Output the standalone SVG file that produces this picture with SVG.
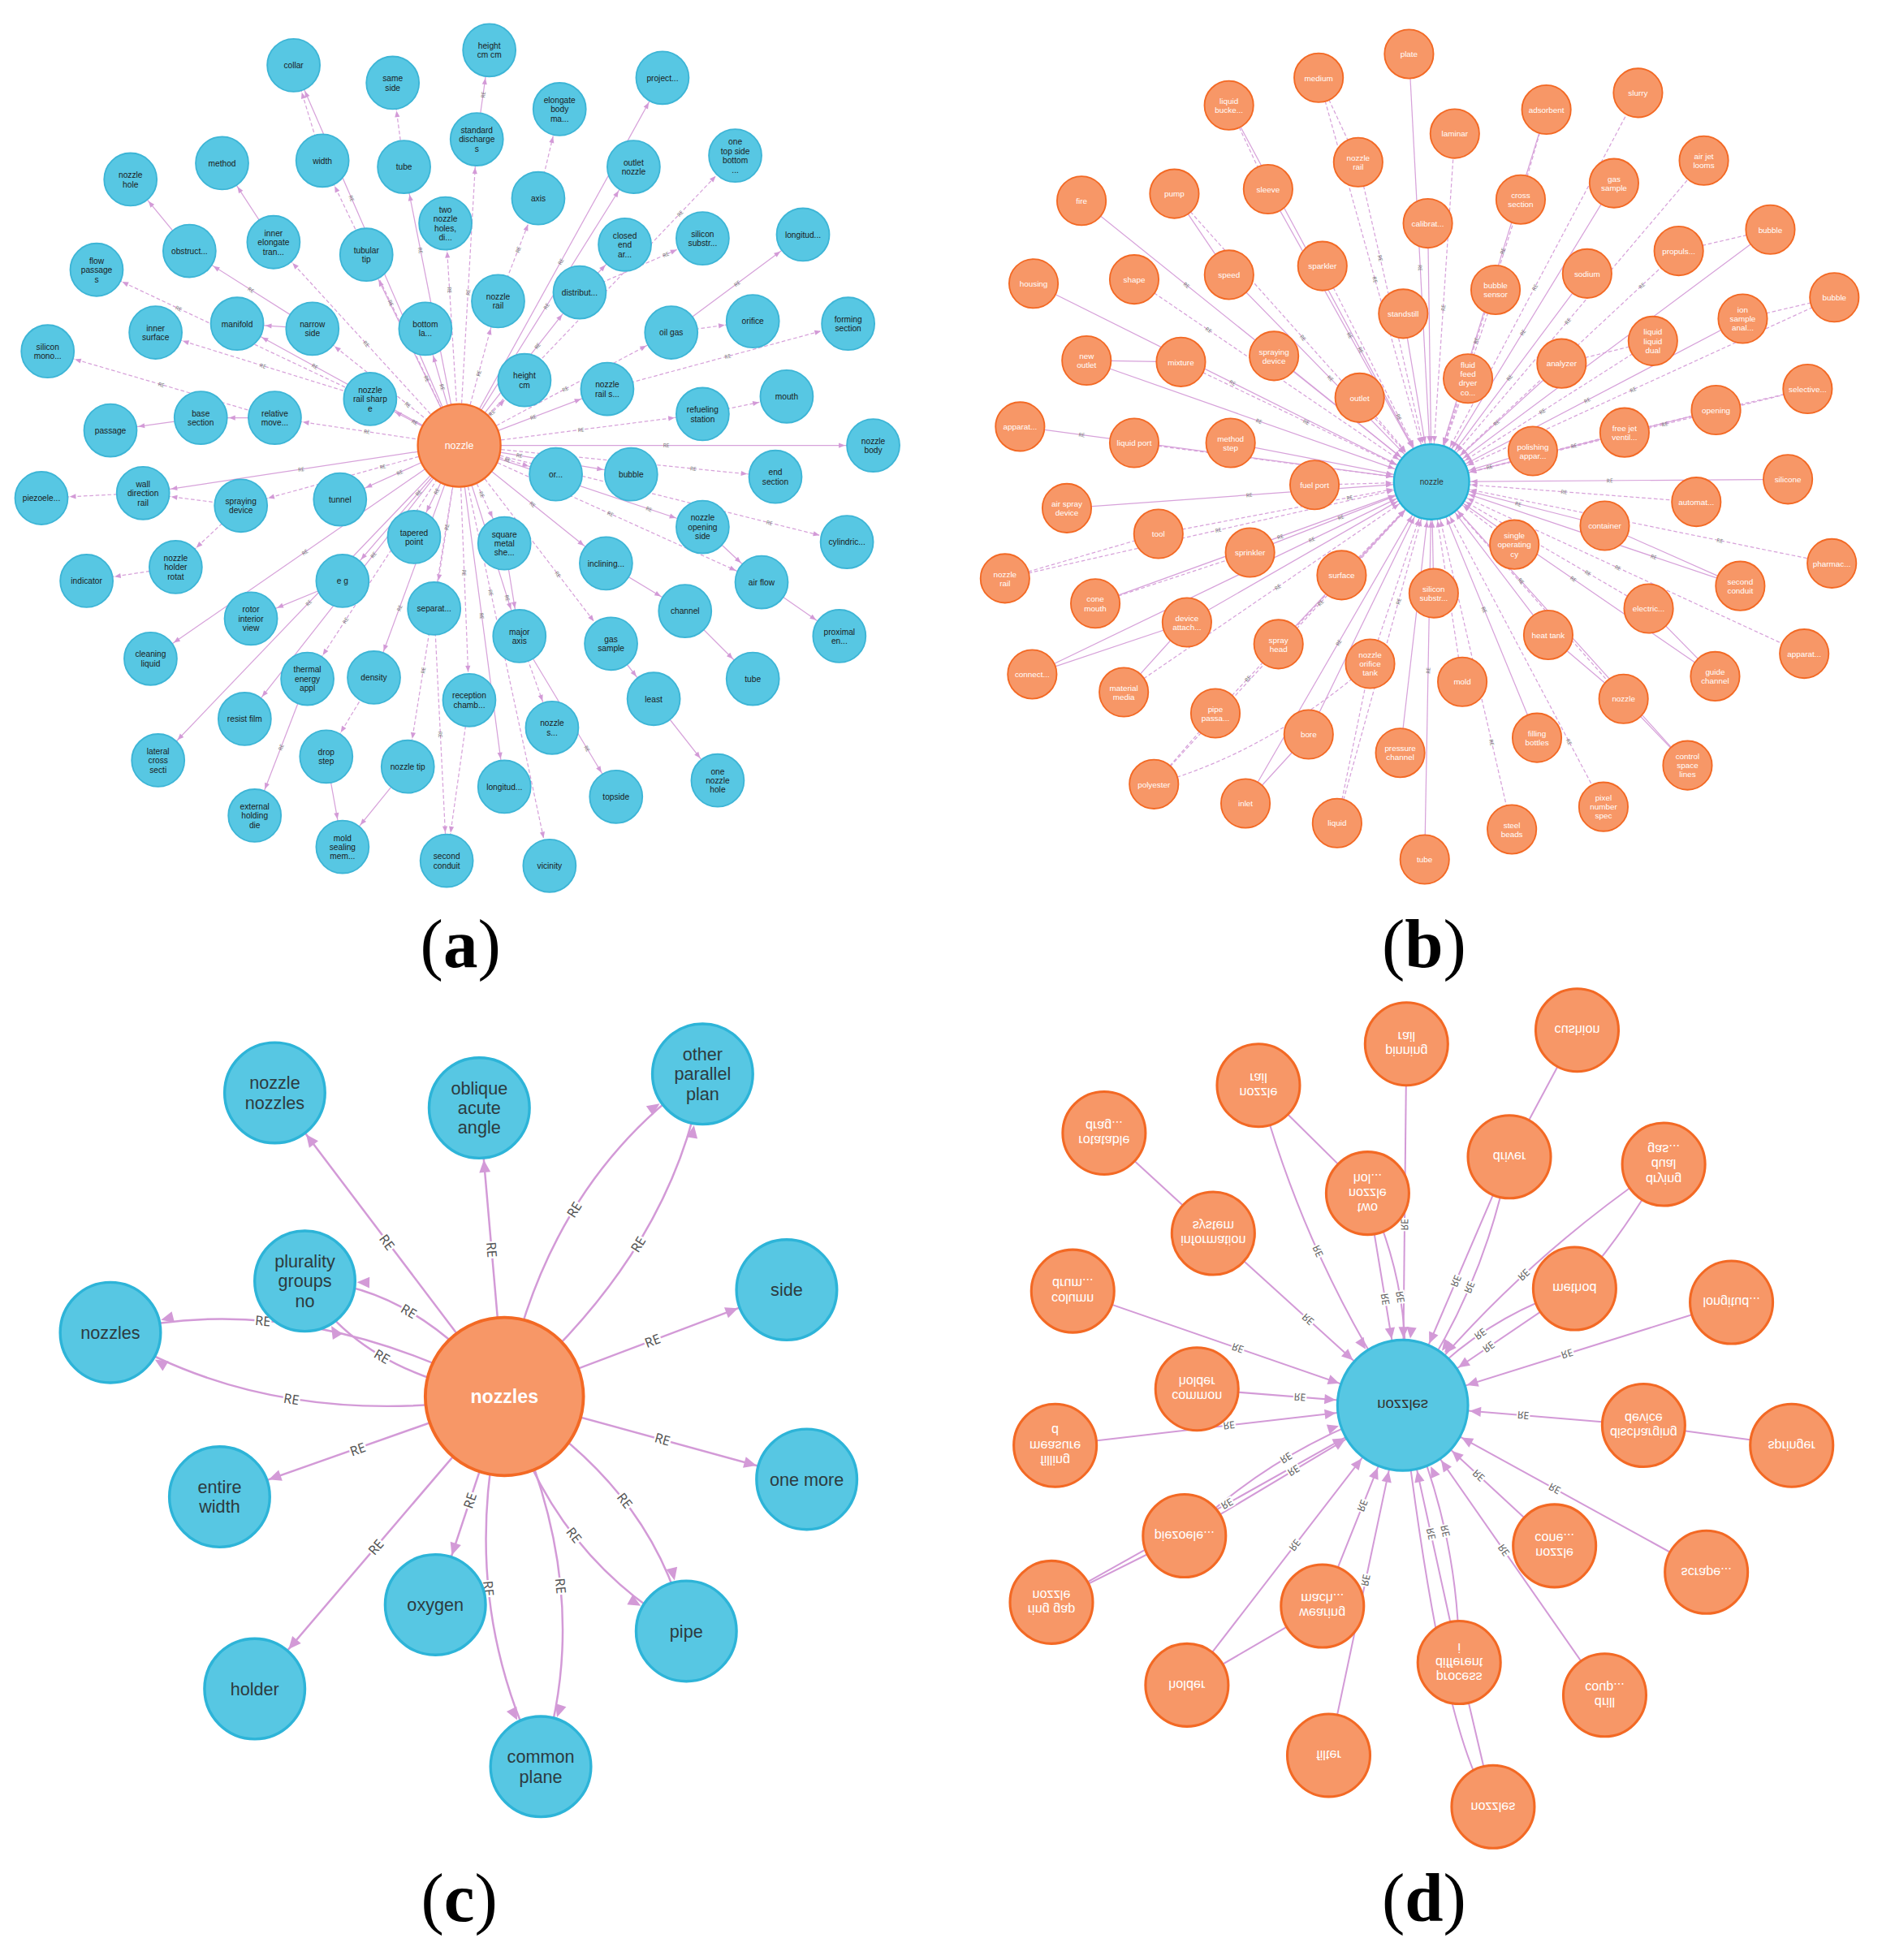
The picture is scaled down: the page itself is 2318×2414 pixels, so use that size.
<svg xmlns="http://www.w3.org/2000/svg" width="2318" height="2414" viewBox="0 0 2318 2414">
<style>
.e{fill:none;stroke:#D7A2DA;stroke-width:.8}
.ec{fill:none;stroke:#D39AD7;stroke-width:1.6}
.ed{fill:none;stroke:#D39AD7;stroke-width:1.3}
.d{stroke-dasharray:3 1.8}
.lab{font-family:"Noto Sans",sans-serif;font-size:4.2px;fill:#777;text-anchor:middle;dominant-baseline:central}
.labc{font-family:"Noto Sans",sans-serif;font-size:10.5px;fill:#555;text-anchor:middle;dominant-baseline:central;stroke:#fff;stroke-width:3;paint-order:stroke}
.labd{font-family:"Noto Sans",sans-serif;font-size:8px;fill:#666;text-anchor:middle;dominant-baseline:central;stroke:#fff;stroke-width:2.5;paint-order:stroke}
.na circle{fill:#57C7E3;stroke:#3DB5D6;stroke-width:1.2}
.na text{font-family:"Liberation Sans",Arial,sans-serif;font-size:6.6px;fill:#1b1b1b;text-anchor:middle}
.ca circle{fill:#F79767;stroke:#F36924;stroke-width:1.5}
.ca text{font-family:"Liberation Sans",Arial,sans-serif;font-size:8px;fill:#fff;text-anchor:middle}
.nb circle{fill:#F79767;stroke:#F36924;stroke-width:1.2}
.nb text{font-family:"Liberation Sans",Arial,sans-serif;font-size:6.4px;fill:#fff;text-anchor:middle}
.cb circle{fill:#57C7E3;stroke:#23B3D7;stroke-width:1.5}
.cb text{font-family:"Liberation Sans",Arial,sans-serif;font-size:6.5px;fill:#333;text-anchor:middle}
.nc circle{fill:#57C7E3;stroke:#2DB4D8;stroke-width:2.2}
.nc text{font-family:"Liberation Sans",Arial,sans-serif;font-size:14px;fill:#2d3b40;text-anchor:middle}
.cc circle{fill:#F79767;stroke:#F36924;stroke-width:2.5}
.cc text{font-family:"Liberation Sans",Arial,sans-serif;font-size:15px;font-weight:bold;fill:#fff;text-anchor:middle}
.nd circle{fill:#F79767;stroke:#F36924;stroke-width:2}
.nd text{font-family:"Liberation Sans",Arial,sans-serif;font-size:10.5px;fill:#fff;text-anchor:middle}
.cd circle{fill:#57C7E3;stroke:#2DB4D8;stroke-width:2}
.cd text{font-family:"Liberation Sans",Arial,sans-serif;font-size:12px;fill:#333;text-anchor:middle}
.pl{font-family:"Liberation Serif","Times New Roman",serif;font-size:55px;fill:#000;text-anchor:middle}
</style>
<defs>
<marker id="mA" markerUnits="userSpaceOnUse" markerWidth="40" markerHeight="6" refX="27.5" refY="2" orient="auto-start-reverse" overflow="visible"><path d="M0,0L5,2L0,4z" fill="#D39AD7"/></marker>
<marker id="mB" markerUnits="userSpaceOnUse" markerWidth="40" markerHeight="6" refX="36.5" refY="2" orient="auto-start-reverse" overflow="visible"><path d="M0,0L5,2L0,4z" fill="#D39AD7"/></marker>
<marker id="mC" markerUnits="userSpaceOnUse" markerWidth="60" markerHeight="10" refX="51.5" refY="4.5" orient="auto-start-reverse" overflow="visible"><path d="M0,0L10,4.5L0,9z" fill="#D39AD7"/></marker>
<marker id="mD" markerUnits="userSpaceOnUse" markerWidth="70" markerHeight="10" refX="62.5" refY="4" orient="auto-start-reverse" overflow="visible"><path d="M0,0L9,4L0,8z" fill="#D39AD7"/></marker>
</defs>
<rect width="2318" height="2414" fill="#fff"/>
<g transform="scale(1.54533)">

<!-- ================= PANEL A ================= -->
<g id="a-edges">
<path class="e" d="M234,52L366,355" marker-start="url(#mA)"/>
<path class="e d" d="M257,128L366,355" marker-start="url(#mA)"/>
<path class="e" d="M322,133L366,355" marker-start="url(#mA)"/>
<path class="e d" d="M366,355L380,111" marker-end="url(#mA)"/>
<path class="e" d="M366,355L528,62" marker-end="url(#mA)"/>
<path class="e d" d="M366,355L586,124" marker-end="url(#mA)"/>
<path class="e" d="M366,355L505,133" marker-end="url(#mA)"/>
<path class="e d" d="M355,178L366,355" marker-start="url(#mA)"/>
<path class="e" d="M292,203L366,355" marker-start="url(#mA)"/>
<path class="e d" d="M218,193L366,355" marker-start="url(#mA)"/>
<path class="e" d="M189,258L366,355" marker-start="url(#mA)"/>
<path class="e d" d="M249,262L366,355" marker-start="url(#mA)"/>
<path class="e" d="M339,262L366,355" marker-start="url(#mA)"/>
<path class="e d" d="M366,355L397,240" marker-end="url(#mA)"/>
<path class="e" d="M366,355L462,233" marker-end="url(#mA)"/>
<path class="e d" d="M366,355L535,265" marker-end="url(#mA)"/>
<path class="e" d="M295,318L366,355" marker-start="url(#mA)"/>
<path class="e d" d="M366,355L418,303" marker-end="url(#mA)"/>
<path class="e" d="M366,355L484,310" marker-end="url(#mA)"/>
<path class="e d" d="M366,355L560,330" marker-end="url(#mA)"/>
<path class="e" d="M366,355L696,355" marker-end="url(#mA)"/>
<path class="e d" d="M219,333L366,355" marker-start="url(#mA)"/>
<path class="e" d="M114,393L366,355" marker-start="url(#mA)"/>
<path class="e d" d="M192,403L366,355" marker-start="url(#mA)"/>
<path class="e" d="M271,398L366,355" marker-start="url(#mA)"/>
<path class="e d" d="M366,355L443,378" marker-end="url(#mA)"/>
<path class="e" d="M366,355L503,378" marker-end="url(#mA)"/>
<path class="e d" d="M366,355L618,380" marker-end="url(#mA)"/>
<path class="e" d="M330,428L366,355" marker-start="url(#mA)"/>
<path class="e d" d="M366,355L402,433" marker-end="url(#mA)"/>
<path class="e" d="M366,355L560,420" marker-end="url(#mA)"/>
<path class="e d" d="M366,355L675,432" marker-end="url(#mA)"/>
<path class="e" d="M273,463L366,355" marker-start="url(#mA)"/>
<path class="e d" d="M346,485L366,355" marker-start="url(#mA)"/>
<path class="e" d="M366,355L483,449" marker-end="url(#mA)"/>
<path class="e d" d="M366,355L607,464" marker-end="url(#mA)"/>
<path class="e" d="M120,525L366,355" marker-start="url(#mA)"/>
<path class="e d" d="M245,541L366,355" marker-start="url(#mA)"/>
<path class="e" d="M298,540L366,355" marker-start="url(#mA)"/>
<path class="e d" d="M366,355L487,513" marker-end="url(#mA)"/>
<path class="e" d="M195,573L366,355" marker-start="url(#mA)"/>
<path class="e d" d="M366,355L374,558" marker-end="url(#mA)"/>
<path class="e" d="M126,606L366,355" marker-start="url(#mA)"/>
<path class="e d" d="M325,611L366,355" marker-start="url(#mA)"/>
<path class="e" d="M366,355L402,627" marker-end="url(#mA)"/>
<path class="e d" d="M366,355L438,690" marker-end="url(#mA)"/>
<path class="e" d="M366,355L414,507" marker-end="url(#mA)"/>
<path class="e d" d="M234,52L257,128" marker-start="url(#mA)"/>
<path class="e d" d="M313,66L322,133" marker-start="url(#mA)"/>
<path class="e" d="M380,111L390,40" marker-end="url(#mA)"/>
<path class="e d" d="M397,240L429,158" marker-end="url(#mA)"/>
<path class="e d" d="M429,158L446,87" marker-end="url(#mA)"/>
<path class="e" d="M462,233L498,195" marker-end="url(#mA)"/>
<path class="e d" d="M462,233L560,190" marker-end="url(#mA)"/>
<path class="e d" d="M535,265L600,256" marker-end="url(#mA)"/>
<path class="e" d="M535,265L640,187" marker-end="url(#mA)"/>
<path class="e d" d="M484,310L676,258" marker-end="url(#mA)"/>
<path class="e d" d="M560,330L627,316" marker-end="url(#mA)"/>
<path class="e" d="M189,258L249,262" marker-start="url(#mA)"/>
<path class="e" d="M151,200L249,262" marker-start="url(#mA)"/>
<path class="e" d="M104,143L151,200" marker-start="url(#mA)"/>
<path class="e" d="M177,130L218,193" marker-start="url(#mA)"/>
<path class="e d" d="M77,215L295,318" marker-start="url(#mA)"/>
<path class="e d" d="M124,265L295,318" marker-start="url(#mA)"/>
<path class="e d" d="M38,280L219,333" marker-start="url(#mA)"/>
<path class="e" d="M160,333L219,333" marker-start="url(#mA)"/>
<path class="e" d="M88,343L160,333" marker-start="url(#mA)"/>
<path class="e d" d="M33,397L114,393" marker-start="url(#mA)"/>
<path class="e d" d="M114,393L192,403" marker-start="url(#mA)"/>
<path class="e d" d="M140,452L192,403" marker-start="url(#mA)"/>
<path class="e d" d="M69,463L140,452" marker-start="url(#mA)"/>
<path class="e" d="M200,493L273,463" marker-start="url(#mA)"/>
<path class="e" d="M203,650L245,541" marker-start="url(#mA)"/>
<path class="e d" d="M260,603L298,540" marker-start="url(#mA)"/>
<path class="e" d="M260,603L273,675" marker-end="url(#mA)"/>
<path class="e" d="M273,675L325,611" marker-start="url(#mA)"/>
<path class="e d" d="M346,485L356,686" marker-end="url(#mA)"/>
<path class="e d" d="M356,686L374,558" marker-start="url(#mA)"/>
<path class="e" d="M402,433L414,507" marker-end="url(#mA)"/>
<path class="e d" d="M414,507L440,580" marker-end="url(#mA)"/>
<path class="e" d="M414,507L491,635" marker-end="url(#mA)"/>
<path class="e" d="M487,513L521,557" marker-end="url(#mA)"/>
<path class="e" d="M521,557L572,622" marker-end="url(#mA)"/>
<path class="e" d="M546,487L600,541" marker-end="url(#mA)"/>
<path class="e" d="M483,449L546,487" marker-end="url(#mA)"/>
<path class="e" d="M607,464L669,507" marker-end="url(#mA)"/>
<path class="e" d="M560,420L607,464" marker-end="url(#mA)"/>
<text class="lab" x="280.2" y="158.1" transform="rotate(66.5 280.2 158.1)">RE</text>
<text class="lab" x="311.5" y="241.5" transform="rotate(64.4 311.5 241.5)">RE</text>
<text class="lab" x="335.2" y="199.6" transform="rotate(78.8 335.2 199.6)">RE</text>
<text class="lab" x="373" y="233" transform="rotate(-86.7 373 233)">RE</text>
<text class="lab" x="447" y="208.5" transform="rotate(-61.1 447 208.5)">RE</text>
<text class="lab" x="542" y="170.2" transform="rotate(-46.4 542 170.2)">RE</text>
<text class="lab" x="435.5" y="244" transform="rotate(-57.9 435.5 244)">RE</text>
<text class="lab" x="358.3" y="231.1" transform="rotate(86.4 358.3 231.1)">RE</text>
<text class="lab" x="340.1" y="301.8" transform="rotate(64 340.1 301.8)">RE</text>
<text class="lab" x="292" y="274" transform="rotate(47.6 292 274)">RE</text>
<text class="lab" x="251" y="292" transform="rotate(28.7 251 292)">RE</text>
<text class="lab" x="325" y="322.5" transform="rotate(38.5 325 322.5)">RE</text>
<text class="lab" x="352.5" y="308.5" transform="rotate(73.8 352.5 308.5)">RE</text>
<text class="lab" x="381.5" y="297.5" transform="rotate(-74.9 381.5 297.5)">RE</text>
<text class="lab" x="428.4" y="275.7" transform="rotate(-51.8 428.4 275.7)">RE</text>
<text class="lab" x="450.5" y="310" transform="rotate(-28 450.5 310)">RE</text>
<text class="lab" x="330.5" y="336.5" transform="rotate(27.5 330.5 336.5)">RE</text>
<text class="lab" x="392" y="329" transform="rotate(-45 392 329)">RE</text>
<text class="lab" x="425" y="332.5" transform="rotate(-20.9 425 332.5)">RE</text>
<text class="lab" x="463" y="342.5" transform="rotate(-7.3 463 342.5)">RE</text>
<text class="lab" x="531" y="355">RE</text>
<text class="lab" x="292.5" y="344" transform="rotate(8.5 292.5 344)">RE</text>
<text class="lab" x="240" y="374" transform="rotate(-8.6 240 374)">RE</text>
<text class="lab" x="305.1" y="371.8" transform="rotate(-15.4 305.1 371.8)">RE</text>
<text class="lab" x="318.5" y="376.5" transform="rotate(-24.4 318.5 376.5)">RE</text>
<text class="lab" x="404.5" y="366.5" transform="rotate(16.6 404.5 366.5)">RE</text>
<text class="lab" x="414" y="363" transform="rotate(9.5 414 363)">RE</text>
<text class="lab" x="552.5" y="373.5" transform="rotate(5.7 552.5 373.5)">RE</text>
<text class="lab" x="348" y="391.5" transform="rotate(-63.7 348 391.5)">RE</text>
<text class="lab" x="384" y="394" transform="rotate(65.2 384 394)">RE</text>
<text class="lab" x="517.3" y="405.7" transform="rotate(18.5 517.3 405.7)">RE</text>
<text class="lab" x="613.2" y="416.6" transform="rotate(14 613.2 416.6)">RE</text>
<text class="lab" x="333.5" y="392.8" transform="rotate(-49.3 333.5 392.8)">RE</text>
<text class="lab" x="356" y="420" transform="rotate(-81.3 356 420)">RE</text>
<text class="lab" x="424.5" y="402" transform="rotate(38.8 424.5 402)">RE</text>
<text class="lab" x="486.5" y="409.5" transform="rotate(24.3 486.5 409.5)">RE</text>
<text class="lab" x="243" y="440" transform="rotate(-34.6 243 440)">RE</text>
<text class="lab" x="275.3" y="494.5" transform="rotate(-57 275.3 494.5)">RE</text>
<text class="lab" x="318.4" y="484.5" transform="rotate(-69.8 318.4 484.5)">RE</text>
<text class="lab" x="444.7" y="457.7" transform="rotate(52.6 444.7 457.7)">RE</text>
<text class="lab" x="297.6" y="442.2" transform="rotate(-51.9 297.6 442.2)">RE</text>
<text class="lab" x="370" y="456.5" transform="rotate(87.7 370 456.5)">RE</text>
<text class="lab" x="246" y="480.5" transform="rotate(-46.3 246 480.5)">RE</text>
<text class="lab" x="337.3" y="534.2" transform="rotate(-80.9 337.3 534.2)">RE</text>
<text class="lab" x="384" y="491" transform="rotate(82.5 384 491)">RE</text>
<text class="lab" x="391.2" y="472.3" transform="rotate(77.9 391.2 472.3)">RE</text>
<text class="lab" x="404.4" y="476.6" transform="rotate(72.5 404.4 476.6)">RE</text>
<text class="lab" x="385" y="75.5" transform="rotate(-82 385 75.5)">RE</text>
<text class="lab" x="413" y="199" transform="rotate(-68.7 413 199)">RE</text>
<text class="lab" x="530.6" y="202.9" transform="rotate(-23.7 530.6 202.9)">RE</text>
<text class="lab" x="587.5" y="226" transform="rotate(-36.6 587.5 226)">RE</text>
<text class="lab" x="580" y="284" transform="rotate(-15.2 580 284)">RE</text>
<text class="lab" x="200" y="231" transform="rotate(32.3 200 231)">RE</text>
<text class="lab" x="142.4" y="245.9" transform="rotate(25.3 142.4 245.9)">RE</text>
<text class="lab" x="209.5" y="291.5" transform="rotate(17.2 209.5 291.5)">RE</text>
<text class="lab" x="128.5" y="306.5" transform="rotate(16.3 128.5 306.5)">RE</text>
<text class="lab" x="224" y="595.5" transform="rotate(-69.1 224 595.5)">RE</text>
<text class="lab" x="351" y="585.5" transform="rotate(87.2 351 585.5)">RE</text>
<text class="lab" x="467.9" y="596.6" transform="rotate(59 467.9 596.6)">RE</text>
</g>
<g id="a-center" class="ca"><circle cx="366" cy="355" r="33"/><text x="366" y="358">nozzle</text></g>
<g id="a01" class="na"><circle cx="234" cy="52" r="21"/><text x="234" y="54.5">collar</text></g>
<g id="a02" class="na"><circle cx="313" cy="66" r="21"/><text x="313" y="64.8">same<tspan x="313" dy="7.4">side</tspan></text></g>
<g id="a03" class="na"><circle cx="390" cy="40" r="21"/><text x="390" y="38.8">height<tspan x="390" dy="7.4">cm cm</tspan></text></g>
<g id="a04" class="na"><circle cx="257" cy="128" r="21"/><text x="257" y="130.5">width</text></g>
<g id="a05" class="na"><circle cx="177" cy="130" r="21"/><text x="177" y="132.5">method</text></g>
<g id="a06" class="na"><circle cx="104" cy="143" r="21"/><text x="104" y="141.8">nozzle<tspan x="104" dy="7.4">hole</tspan></text></g>
<g id="a07" class="na"><circle cx="322" cy="133" r="21"/><text x="322" y="135.5">tube</text></g>
<g id="a08" class="na"><circle cx="380" cy="111" r="21"/><text x="380" y="106.1">standard<tspan x="380" dy="7.4">discharge</tspan><tspan x="380" dy="7.4">s</tspan></text></g>
<g id="a09" class="na"><circle cx="446" cy="87" r="21"/><text x="446" y="82.1">elongate<tspan x="446" dy="7.4">body</tspan><tspan x="446" dy="7.4">ma...</tspan></text></g>
<g id="a10" class="na"><circle cx="528" cy="62" r="21"/><text x="528" y="64.5">project...</text></g>
<g id="a11" class="na"><circle cx="586" cy="124" r="21"/><text x="586" y="115.4">one<tspan x="586" dy="7.4">top side</tspan><tspan x="586" dy="7.4">bottom</tspan><tspan x="586" dy="7.4">...</tspan></text></g>
<g id="a12" class="na"><circle cx="505" cy="133" r="21"/><text x="505" y="131.8">outlet<tspan x="505" dy="7.4">nozzle</tspan></text></g>
<g id="a13" class="na"><circle cx="429" cy="158" r="21"/><text x="429" y="160.5">axis</text></g>
<g id="a14" class="na"><circle cx="355" cy="178" r="21"/><text x="355" y="169.4">two<tspan x="355" dy="7.4">nozzle</tspan><tspan x="355" dy="7.4">holes,</tspan><tspan x="355" dy="7.4">di...</tspan></text></g>
<g id="a15" class="na"><circle cx="292" cy="203" r="21"/><text x="292" y="201.8">tubular<tspan x="292" dy="7.4">tip</tspan></text></g>
<g id="a16" class="na"><circle cx="218" cy="193" r="21"/><text x="218" y="188.1">inner<tspan x="218" dy="7.4">elongate</tspan><tspan x="218" dy="7.4">tran...</tspan></text></g>
<g id="a17" class="na"><circle cx="151" cy="200" r="21"/><text x="151" y="202.5">obstruct...</text></g>
<g id="a18" class="na"><circle cx="77" cy="215" r="21"/><text x="77" y="210.1">flow<tspan x="77" dy="7.4">passage</tspan><tspan x="77" dy="7.4">s</tspan></text></g>
<g id="a19" class="na"><circle cx="189" cy="258" r="21"/><text x="189" y="260.5">manifold</text></g>
<g id="a20" class="na"><circle cx="249" cy="262" r="21"/><text x="249" y="260.8">narrow<tspan x="249" dy="7.4">side</tspan></text></g>
<g id="a21" class="na"><circle cx="339" cy="262" r="21"/><text x="339" y="260.8">bottom<tspan x="339" dy="7.4">la...</tspan></text></g>
<g id="a22" class="na"><circle cx="397" cy="240" r="21"/><text x="397" y="238.8">nozzle<tspan x="397" dy="7.4">rail</tspan></text></g>
<g id="a23" class="na"><circle cx="462" cy="233" r="21"/><text x="462" y="235.5">distribut...</text></g>
<g id="a24" class="na"><circle cx="498" cy="195" r="21"/><text x="498" y="190.1">closed<tspan x="498" dy="7.4">end</tspan><tspan x="498" dy="7.4">ar...</tspan></text></g>
<g id="a25" class="na"><circle cx="560" cy="190" r="21"/><text x="560" y="188.8">silicon<tspan x="560" dy="7.4">substr...</tspan></text></g>
<g id="a26" class="na"><circle cx="640" cy="187" r="21"/><text x="640" y="189.5">longitud...</text></g>
<g id="a27" class="na"><circle cx="535" cy="265" r="21"/><text x="535" y="267.5">oil gas</text></g>
<g id="a28" class="na"><circle cx="600" cy="256" r="21"/><text x="600" y="258.5">orifice</text></g>
<g id="a29" class="na"><circle cx="676" cy="258" r="21"/><text x="676" y="256.8">forming<tspan x="676" dy="7.4">section</tspan></text></g>
<g id="a30" class="na"><circle cx="124" cy="265" r="21"/><text x="124" y="263.8">inner<tspan x="124" dy="7.4">surface</tspan></text></g>
<g id="a31" class="na"><circle cx="38" cy="280" r="21"/><text x="38" y="278.8">silicon<tspan x="38" dy="7.4">mono...</tspan></text></g>
<g id="a32" class="na"><circle cx="295" cy="318" r="21"/><text x="295" y="313.1">nozzle<tspan x="295" dy="7.4">rail sharp</tspan><tspan x="295" dy="7.4">e</tspan></text></g>
<g id="a33" class="na"><circle cx="418" cy="303" r="21"/><text x="418" y="301.8">height<tspan x="418" dy="7.4">cm</tspan></text></g>
<g id="a34" class="na"><circle cx="484" cy="310" r="21"/><text x="484" y="308.8">nozzle<tspan x="484" dy="7.4">rail s...</tspan></text></g>
<g id="a35" class="na"><circle cx="560" cy="330" r="21"/><text x="560" y="328.8">refueling<tspan x="560" dy="7.4">station</tspan></text></g>
<g id="a36" class="na"><circle cx="627" cy="316" r="21"/><text x="627" y="318.5">mouth</text></g>
<g id="a37" class="na"><circle cx="696" cy="355" r="21"/><text x="696" y="353.8">nozzle<tspan x="696" dy="7.4">body</tspan></text></g>
<g id="a38" class="na"><circle cx="160" cy="333" r="21"/><text x="160" y="331.8">base<tspan x="160" dy="7.4">section</tspan></text></g>
<g id="a39" class="na"><circle cx="219" cy="333" r="21"/><text x="219" y="331.8">relative<tspan x="219" dy="7.4">move...</tspan></text></g>
<g id="a40" class="na"><circle cx="88" cy="343" r="21"/><text x="88" y="345.5">passage</text></g>
<g id="a41" class="na"><circle cx="33" cy="397" r="21"/><text x="33" y="399.5">piezoele...</text></g>
<g id="a42" class="na"><circle cx="114" cy="393" r="21"/><text x="114" y="388.1">wall<tspan x="114" dy="7.4">direction</tspan><tspan x="114" dy="7.4">rail</tspan></text></g>
<g id="a43" class="na"><circle cx="192" cy="403" r="21"/><text x="192" y="401.8">spraying<tspan x="192" dy="7.4">device</tspan></text></g>
<g id="a44" class="na"><circle cx="271" cy="398" r="21"/><text x="271" y="400.5">tunnel</text></g>
<g id="a45" class="na"><circle cx="443" cy="378" r="21"/><text x="443" y="380.5">or...</text></g>
<g id="a46" class="na"><circle cx="503" cy="378" r="21"/><text x="503" y="380.5">bubble</text></g>
<g id="a47" class="na"><circle cx="618" cy="380" r="21"/><text x="618" y="378.8">end<tspan x="618" dy="7.4">section</tspan></text></g>
<g id="a48" class="na"><circle cx="69" cy="463" r="21"/><text x="69" y="465.5">indicator</text></g>
<g id="a49" class="na"><circle cx="140" cy="452" r="21"/><text x="140" y="447.1">nozzle<tspan x="140" dy="7.4">holder</tspan><tspan x="140" dy="7.4">rotat</tspan></text></g>
<g id="a50" class="na"><circle cx="330" cy="428" r="21"/><text x="330" y="426.8">tapered<tspan x="330" dy="7.4">point</tspan></text></g>
<g id="a51" class="na"><circle cx="402" cy="433" r="21"/><text x="402" y="428.1">square<tspan x="402" dy="7.4">metal</tspan><tspan x="402" dy="7.4">she...</tspan></text></g>
<g id="a52" class="na"><circle cx="560" cy="420" r="21"/><text x="560" y="415.1">nozzle<tspan x="560" dy="7.4">opening</tspan><tspan x="560" dy="7.4">side</tspan></text></g>
<g id="a53" class="na"><circle cx="675" cy="432" r="21"/><text x="675" y="434.5">cylindric...</text></g>
<g id="a54" class="na"><circle cx="273" cy="463" r="21"/><text x="273" y="465.5">e g</text></g>
<g id="a55" class="na"><circle cx="200" cy="493" r="21"/><text x="200" y="488.1">rotor<tspan x="200" dy="7.4">interior</tspan><tspan x="200" dy="7.4">view</tspan></text></g>
<g id="a56" class="na"><circle cx="346" cy="485" r="21"/><text x="346" y="487.5">separat...</text></g>
<g id="a57" class="na"><circle cx="483" cy="449" r="21"/><text x="483" y="451.5">inclining...</text></g>
<g id="a58" class="na"><circle cx="607" cy="464" r="21"/><text x="607" y="466.5">air flow</text></g>
<g id="a59" class="na"><circle cx="120" cy="525" r="21"/><text x="120" y="523.8">cleaning<tspan x="120" dy="7.4">liquid</tspan></text></g>
<g id="a60" class="na"><circle cx="245" cy="541" r="21"/><text x="245" y="536.1">thermal<tspan x="245" dy="7.4">energy</tspan><tspan x="245" dy="7.4">appl</tspan></text></g>
<g id="a61" class="na"><circle cx="298" cy="540" r="21"/><text x="298" y="542.5">density</text></g>
<g id="a62" class="na"><circle cx="546" cy="487" r="21"/><text x="546" y="489.5">channel</text></g>
<g id="a63" class="na"><circle cx="487" cy="513" r="21"/><text x="487" y="511.8">gas<tspan x="487" dy="7.4">sample</tspan></text></g>
<g id="a64" class="na"><circle cx="669" cy="507" r="21"/><text x="669" y="505.8">proximal<tspan x="669" dy="7.4">en...</tspan></text></g>
<g id="a65" class="na"><circle cx="414" cy="507" r="21"/><text x="414" y="505.8">major<tspan x="414" dy="7.4">axis</tspan></text></g>
<g id="a66" class="na"><circle cx="600" cy="541" r="21"/><text x="600" y="543.5">tube</text></g>
<g id="a67" class="na"><circle cx="195" cy="573" r="21"/><text x="195" y="575.5">resist film</text></g>
<g id="a68" class="na"><circle cx="374" cy="558" r="21"/><text x="374" y="556.8">reception<tspan x="374" dy="7.4">chamb...</tspan></text></g>
<g id="a69" class="na"><circle cx="521" cy="557" r="21"/><text x="521" y="559.5">least</text></g>
<g id="a70" class="na"><circle cx="126" cy="606" r="21"/><text x="126" y="601.1">lateral<tspan x="126" dy="7.4">cross</tspan><tspan x="126" dy="7.4">secti</tspan></text></g>
<g id="a71" class="na"><circle cx="260" cy="603" r="21"/><text x="260" y="601.8">drop<tspan x="260" dy="7.4">step</tspan></text></g>
<g id="a72" class="na"><circle cx="325" cy="611" r="21"/><text x="325" y="613.5">nozzle tip</text></g>
<g id="a73" class="na"><circle cx="440" cy="580" r="21"/><text x="440" y="578.8">nozzle<tspan x="440" dy="7.4">s...</tspan></text></g>
<g id="a74" class="na"><circle cx="402" cy="627" r="21"/><text x="402" y="629.5">longitud...</text></g>
<g id="a75" class="na"><circle cx="491" cy="635" r="21"/><text x="491" y="637.5">topside</text></g>
<g id="a76" class="na"><circle cx="572" cy="622" r="21"/><text x="572" y="617.1">one<tspan x="572" dy="7.4">nozzle</tspan><tspan x="572" dy="7.4">hole</tspan></text></g>
<g id="a77" class="na"><circle cx="203" cy="650" r="21"/><text x="203" y="645.1">external<tspan x="203" dy="7.4">holding</tspan><tspan x="203" dy="7.4">die</tspan></text></g>
<g id="a78" class="na"><circle cx="273" cy="675" r="21"/><text x="273" y="670.1">mold<tspan x="273" dy="7.4">sealing</tspan><tspan x="273" dy="7.4">mem...</tspan></text></g>
<g id="a79" class="na"><circle cx="356" cy="686" r="21"/><text x="356" y="684.8">second<tspan x="356" dy="7.4">conduit</tspan></text></g>
<g id="a80" class="na"><circle cx="438" cy="690" r="21"/><text x="438" y="692.5">vicinity</text></g>

<!-- ================= PANEL B ================= -->
<g id="b-edges">
<path class="e d" d="M979.5,84L1010.7,150.8"/>
<path class="e" d="M936,154.4L979.6,219"/>
<path class="e d" d="M801,461L923.3,425.5"/>
<path class="e d" d="M873,481L996.3,440.4"/>
<path class="e" d="M822.7,537.4L946,496"/>
<path class="e" d="M895.7,551.7L946,496"/>
<path class="e d" d="M919.7,625L968.7,568.5"/>
<path class="e d" d="M919.7,625Q1010,600 1092,529"/>
<path class="e" d="M992.7,640.3L1043,585.3"/>
<path class="e d" d="M1065.7,656L1092,529"/>
<path class="e d" d="M1051,62L1082.5,129.3"/>
<path class="e d" d="M1232.5,87.4L1212,159"/>
<path class="e d" d="M1338,200L1411,183"/>
<path class="e d" d="M1389,254L1462,237"/>
<path class="e d" d="M1367.7,326.8L1440.7,310"/>
<path class="e d" d="M1294.8,344.7L1367.7,326.8"/>
<path class="e" d="M1387,467L1279,419"/>
<path class="e" d="M1367,539L1314,485"/>
<path class="e" d="M1345,610L1294,557"/>
<path class="e" d="M1294,557L1234,506"/>
<path class="e d" d="M1317.4,271.7L1244.6,289.7"/>
<path class="e" d="M866,287.3L941.2,288.5"/>
<path class="e" d="M1123,43L1141,384" marker-end="url(#mB)"/>
<path class="e d" d="M1051,62L1141,384" marker-end="url(#mB)"/>
<path class="e" d="M979.5,84L1141,384" marker-end="url(#mB)"/>
<path class="e d" d="M1141,384L1159.5,106.5" marker-start="url(#mB)"/>
<path class="e" d="M1141,384L1232.5,87.4" marker-start="url(#mB)"/>
<path class="e d" d="M1141,384L1305.5,74" marker-start="url(#mB)"/>
<path class="e" d="M862,160L1141,384" marker-end="url(#mB)"/>
<path class="e d" d="M936,154.4L1141,384" marker-end="url(#mB)"/>
<path class="e" d="M1010.7,150.8L1141,384" marker-end="url(#mB)"/>
<path class="e d" d="M1082.5,129.3L1141,384" marker-end="url(#mB)"/>
<path class="e" d="M1138,178L1141,384" marker-end="url(#mB)"/>
<path class="e d" d="M1141,384L1212,159" marker-start="url(#mB)"/>
<path class="e" d="M1141,384L1286.4,146" marker-start="url(#mB)"/>
<path class="e d" d="M1141,384L1358,128" marker-start="url(#mB)"/>
<path class="e" d="M1141,384L1411,183" marker-start="url(#mB)"/>
<path class="e d" d="M1141,384L1338,200" marker-start="url(#mB)"/>
<path class="e" d="M1141,384L1265,218" marker-start="url(#mB)"/>
<path class="e d" d="M1141,384L1192,231" marker-start="url(#mB)"/>
<path class="e" d="M1118.4,250L1141,384" marker-end="url(#mB)"/>
<path class="e d" d="M1054,212L1141,384" marker-end="url(#mB)"/>
<path class="e" d="M979.6,219L1141,384" marker-end="url(#mB)"/>
<path class="e d" d="M904,222.7L1141,384" marker-end="url(#mB)"/>
<path class="e" d="M823.8,226L1141,384" marker-end="url(#mB)"/>
<path class="e d" d="M1141,384L1170,301.7" marker-start="url(#mB)"/>
<path class="e" d="M1141,384L1244.6,289.7" marker-start="url(#mB)"/>
<path class="e d" d="M1141,384L1317.4,271.7" marker-start="url(#mB)"/>
<path class="e" d="M1141,384L1389,254" marker-start="url(#mB)"/>
<path class="e d" d="M1141,384L1462,237" marker-start="url(#mB)"/>
<path class="e" d="M866,287.3L1141,384" marker-end="url(#mB)"/>
<path class="e d" d="M941.2,288.5L1141,384" marker-end="url(#mB)"/>
<path class="e" d="M1015.4,283.7L1141,384" marker-end="url(#mB)"/>
<path class="e d" d="M1083.7,317L1141,384" marker-end="url(#mB)"/>
<path class="e" d="M980.8,353L1141,384" marker-end="url(#mB)"/>
<path class="e d" d="M904,353L1141,384" marker-end="url(#mB)"/>
<path class="e" d="M813,340L1141,384" marker-end="url(#mB)"/>
<path class="e d" d="M1047.7,386.5L1141,384" marker-end="url(#mB)"/>
<path class="e" d="M1141,384L1221.7,359.5" marker-start="url(#mB)"/>
<path class="e d" d="M1141,384L1294.8,344.7" marker-start="url(#mB)"/>
<path class="e" d="M1141,384L1367.7,326.8" marker-start="url(#mB)"/>
<path class="e d" d="M1141,384L1440.7,310" marker-start="url(#mB)"/>
<path class="e" d="M850.3,405L1141,384" marker-end="url(#mB)"/>
<path class="e d" d="M923.3,425.5L1141,384" marker-end="url(#mB)"/>
<path class="e" d="M996.3,440.4L1141,384" marker-end="url(#mB)"/>
<path class="e d" d="M1069.3,458.4L1141,384" marker-end="url(#mB)"/>
<path class="e" d="M1141,384L1142.7,472.8" marker-start="url(#mB)"/>
<path class="e d" d="M1141,384L1207,434" marker-start="url(#mB)"/>
<path class="e" d="M1141,384L1279,419" marker-start="url(#mB)"/>
<path class="e d" d="M1141,384L1352,400" marker-start="url(#mB)"/>
<path class="e" d="M1141,384L1425,382" marker-start="url(#mB)"/>
<path class="e d" d="M1141,384L1460,449" marker-start="url(#mB)"/>
<path class="e" d="M1141,384L1387,467" marker-start="url(#mB)"/>
<path class="e d" d="M1141,384L1314,485" marker-start="url(#mB)"/>
<path class="e" d="M1141,384L1234,506" marker-start="url(#mB)"/>
<path class="e d" d="M1141,384L1438,521" marker-start="url(#mB)"/>
<path class="e" d="M1141,384L1367,539" marker-start="url(#mB)"/>
<path class="e d" d="M1141,384L1294,557" marker-start="url(#mB)"/>
<path class="e" d="M1141,384L1345,610" marker-start="url(#mB)"/>
<path class="e d" d="M1141,384L1278,643" marker-start="url(#mB)"/>
<path class="e" d="M1141,384L1225,588" marker-start="url(#mB)"/>
<path class="e d" d="M1141,384L1205,661" marker-start="url(#mB)"/>
<path class="e" d="M1135.5,685L1141,384" marker-end="url(#mB)"/>
<path class="e d" d="M1141,384L1165.5,543.4" marker-start="url(#mB)"/>
<path class="e" d="M1116,600L1141,384" marker-end="url(#mB)"/>
<path class="e d" d="M1065.7,656L1141,384" marker-end="url(#mB)"/>
<path class="e" d="M992.7,640.3L1141,384" marker-end="url(#mB)"/>
<path class="e d" d="M919.7,625L1141,384" marker-end="url(#mB)"/>
<path class="e" d="M1043,585.3L1141,384" marker-end="url(#mB)"/>
<path class="e d" d="M1092,529L1141,384" marker-end="url(#mB)"/>
<path class="e" d="M1019,513.4L1141,384" marker-end="url(#mB)"/>
<path class="e d" d="M968.7,568.5L1141,384" marker-end="url(#mB)"/>
<path class="e" d="M946,496L1141,384" marker-end="url(#mB)"/>
<path class="e d" d="M895.7,551.7L1141,384" marker-end="url(#mB)"/>
<path class="e" d="M873,481L1141,384" marker-end="url(#mB)"/>
<path class="e d" d="M801,461L1141,384" marker-end="url(#mB)"/>
<path class="e" d="M822.7,537.4L1141,384" marker-end="url(#mB)"/>
<text class="lab" x="1132" y="213.5" transform="rotate(87 1132 213.5)">RE</text>
<text class="lab" x="1096" y="223" transform="rotate(74.4 1096 223)">RE</text>
<text class="lab" x="1084.5" y="279" transform="rotate(61.7 1084.5 279)">RE</text>
<text class="lab" x="1150.3" y="245.3" transform="rotate(-86.2 1150.3 245.3)">RE</text>
<text class="lab" x="1197.7" y="200.1" transform="rotate(-72.9 1197.7 200.1)">RE</text>
<text class="lab" x="1223.3" y="229" transform="rotate(-62 1223.3 229)">RE</text>
<text class="lab" x="945.7" y="227.2" transform="rotate(38.8 945.7 227.2)">RE</text>
<text class="lab" x="1038.5" y="269.2" transform="rotate(48.2 1038.5 269.2)">RE</text>
<text class="lab" x="1075.9" y="267.4" transform="rotate(60.8 1075.9 267.4)">RE</text>
<text class="lab" x="1100.1" y="205.7" transform="rotate(77.1 1100.1 205.7)">RE</text>
<text class="lab" x="1176.5" y="271.5" transform="rotate(-72.5 1176.5 271.5)">RE</text>
<text class="lab" x="1213.7" y="265" transform="rotate(-58.6 1213.7 265)">RE</text>
<text class="lab" x="1249.5" y="256" transform="rotate(-49.7 1249.5 256)">RE</text>
<text class="lab" x="1308.5" y="227.6" transform="rotate(-43 1308.5 227.6)">RE</text>
<text class="lab" x="1203" y="301" transform="rotate(-53.2 1203 301)">RE</text>
<text class="lab" x="1114.9" y="332.4" transform="rotate(63.2 1114.9 332.4)">RE</text>
<text class="lab" x="1060.3" y="301.5" transform="rotate(45.6 1060.3 301.5)">RE</text>
<text class="lab" x="963.3" y="263" transform="rotate(34.2 963.3 263)">RE</text>
<text class="lab" x="982.4" y="305" transform="rotate(26.5 982.4 305)">RE</text>
<text class="lab" x="1192.8" y="336.9" transform="rotate(-42.3 1192.8 336.9)">RE</text>
<text class="lab" x="1229.2" y="327.9" transform="rotate(-32.5 1229.2 327.9)">RE</text>
<text class="lab" x="1265" y="319" transform="rotate(-27.7 1265 319)">RE</text>
<text class="lab" x="1301.5" y="310.5" transform="rotate(-24.6 1301.5 310.5)">RE</text>
<text class="lab" x="1003.5" y="335.7" transform="rotate(19.4 1003.5 335.7)">RE</text>
<text class="lab" x="1041.1" y="336.3" transform="rotate(25.5 1041.1 336.3)">RE</text>
<text class="lab" x="862.2" y="346.6" transform="rotate(7.6 862.2 346.6)">RE</text>
<text class="lab" x="1187.1" y="372.2" transform="rotate(-14.3 1187.1 372.2)">RE</text>
<text class="lab" x="1254.4" y="355.4" transform="rotate(-14.2 1254.4 355.4)">RE</text>
<text class="lab" x="1326.8" y="338.1" transform="rotate(-13.9 1326.8 338.1)">RE</text>
<text class="lab" x="995.7" y="394.5" transform="rotate(-4.1 995.7 394.5)">RE</text>
<text class="lab" x="1075.7" y="396.5" transform="rotate(-10.8 1075.7 396.5)">RE</text>
<text class="lab" x="1068.7" y="412.2" transform="rotate(-21.3 1068.7 412.2)">RE</text>
<text class="lab" x="1210" y="401.5" transform="rotate(14.2 1210 401.5)">RE</text>
<text class="lab" x="1246.5" y="392" transform="rotate(4.3 1246.5 392)">RE</text>
<text class="lab" x="1283" y="383" transform="rotate(-0.4 1283 383)">RE</text>
<text class="lab" x="1370.7" y="430.8" transform="rotate(11.5 1370.7 430.8)">RE</text>
<text class="lab" x="1318.1" y="443.8" transform="rotate(18.6 1318.1 443.8)">RE</text>
<text class="lab" x="1265.6" y="456.7" transform="rotate(30.3 1265.6 456.7)">RE</text>
<text class="lab" x="1289.5" y="452.5" transform="rotate(24.8 1289.5 452.5)">RE</text>
<text class="lab" x="1254" y="461.5" transform="rotate(34.4 1254 461.5)">RE</text>
<text class="lab" x="1212.4" y="463.1" transform="rotate(47.9 1212.4 463.1)">RE</text>
<text class="lab" x="1250.6" y="591.2" transform="rotate(62.1 1250.6 591.2)">RE</text>
<text class="lab" x="1183" y="486" transform="rotate(67.6 1183 486)">RE</text>
<text class="lab" x="1189" y="591.8" transform="rotate(77 1189 591.8)">RE</text>
<text class="lab" x="1138.3" y="534.5" transform="rotate(-89 1138.3 534.5)">RE</text>
<text class="lab" x="1114.6" y="479.2" transform="rotate(-74.5 1114.6 479.2)">RE</text>
<text class="lab" x="1066.9" y="512.2" transform="rotate(-59.9 1066.9 512.2)">RE</text>
<text class="lab" x="1052.5" y="480.4" transform="rotate(-47.4 1052.5 480.4)">RE</text>
<text class="lab" x="994.5" y="540.8" transform="rotate(-47 994.5 540.8)">RE</text>
<text class="lab" x="1018.4" y="467.9" transform="rotate(-34.4 1018.4 467.9)">RE</text>
<text class="lab" x="1020.4" y="427.7" transform="rotate(-19.9 1020.4 427.7)">RE</text>
<text class="lab" x="971" y="422.5" transform="rotate(-12.8 971 422.5)">RE</text>
<text class="lab" x="1045.5" y="430" transform="rotate(-25.7 1045.5 430)">RE</text>
</g>
<g id="b-center" class="cb"><circle cx="1141" cy="384" r="30"/><text x="1141" y="386.3">nozzle</text></g>
<g id="b01" class="nb"><circle cx="1123" cy="43" r="19.5"/><text x="1123" y="45.4">plate</text></g>
<g id="b02" class="nb"><circle cx="1051" cy="62" r="19.5"/><text x="1051" y="64.4">medium</text></g>
<g id="b03" class="nb"><circle cx="979.5" cy="84" r="19.5"/><text x="979.5" y="82.8">liquid<tspan x="979.5" dy="7.2">bucke...</tspan></text></g>
<g id="b04" class="nb"><circle cx="1159.5" cy="106.5" r="19.5"/><text x="1159.5" y="108.9">laminar</text></g>
<g id="b05" class="nb"><circle cx="1232.5" cy="87.4" r="19.5"/><text x="1232.5" y="89.8">adsorbent</text></g>
<g id="b06" class="nb"><circle cx="1305.5" cy="74" r="19.5"/><text x="1305.5" y="76.4">slurry</text></g>
<g id="b07" class="nb"><circle cx="862" cy="160" r="19.5"/><text x="862" y="162.4">fire</text></g>
<g id="b08" class="nb"><circle cx="936" cy="154.4" r="19.5"/><text x="936" y="156.8">pump</text></g>
<g id="b09" class="nb"><circle cx="1010.7" cy="150.8" r="19.5"/><text x="1010.7" y="153.2">sleeve</text></g>
<g id="b10" class="nb"><circle cx="1082.5" cy="129.3" r="19.5"/><text x="1082.5" y="128.1">nozzle<tspan x="1082.5" dy="7.2">rail</tspan></text></g>
<g id="b11" class="nb"><circle cx="1138" cy="178" r="19.5"/><text x="1138" y="180.4">calibrat...</text></g>
<g id="b12" class="nb"><circle cx="1212" cy="159" r="19.5"/><text x="1212" y="157.8">cross<tspan x="1212" dy="7.2">section</tspan></text></g>
<g id="b13" class="nb"><circle cx="1286.4" cy="146" r="19.5"/><text x="1286.4" y="144.8">gas<tspan x="1286.4" dy="7.2">sample</tspan></text></g>
<g id="b14" class="nb"><circle cx="1358" cy="128" r="19.5"/><text x="1358" y="126.8">air jet<tspan x="1358" dy="7.2">looms</tspan></text></g>
<g id="b15" class="nb"><circle cx="1411" cy="183" r="19.5"/><text x="1411" y="185.4">bubble</text></g>
<g id="b16" class="nb"><circle cx="1338" cy="200" r="19.5"/><text x="1338" y="202.4">propuls...</text></g>
<g id="b17" class="nb"><circle cx="1265" cy="218" r="19.5"/><text x="1265" y="220.4">sodium</text></g>
<g id="b18" class="nb"><circle cx="1192" cy="231" r="19.5"/><text x="1192" y="229.8">bubble<tspan x="1192" dy="7.2">sensor</tspan></text></g>
<g id="b19" class="nb"><circle cx="1118.4" cy="250" r="19.5"/><text x="1118.4" y="252.4">standstill</text></g>
<g id="b20" class="nb"><circle cx="1054" cy="212" r="19.5"/><text x="1054" y="214.4">sparkler</text></g>
<g id="b21" class="nb"><circle cx="979.6" cy="219" r="19.5"/><text x="979.6" y="221.4">speed</text></g>
<g id="b22" class="nb"><circle cx="904" cy="222.7" r="19.5"/><text x="904" y="225.1">shape</text></g>
<g id="b23" class="nb"><circle cx="823.8" cy="226" r="19.5"/><text x="823.8" y="228.4">housing</text></g>
<g id="b24" class="nb"><circle cx="1170" cy="301.7" r="19.5"/><text x="1170" y="293.3">fluid<tspan x="1170" dy="7.2">feed</tspan><tspan x="1170" dy="7.2">dryer</tspan><tspan x="1170" dy="7.2">co...</tspan></text></g>
<g id="b25" class="nb"><circle cx="1244.6" cy="289.7" r="19.5"/><text x="1244.6" y="292.1">analyzer</text></g>
<g id="b26" class="nb"><circle cx="1317.4" cy="271.7" r="19.5"/><text x="1317.4" y="266.9">liquid<tspan x="1317.4" dy="7.2">liquid</tspan><tspan x="1317.4" dy="7.2">dual</tspan></text></g>
<g id="b27" class="nb"><circle cx="1389" cy="254" r="19.5"/><text x="1389" y="249.2">ion<tspan x="1389" dy="7.2">sample</tspan><tspan x="1389" dy="7.2">anal...</tspan></text></g>
<g id="b28" class="nb"><circle cx="1462" cy="237" r="19.5"/><text x="1462" y="239.4">bubble</text></g>
<g id="b29" class="nb"><circle cx="866" cy="287.3" r="19.5"/><text x="866" y="286.1">new<tspan x="866" dy="7.2">outlet</tspan></text></g>
<g id="b30" class="nb"><circle cx="941.2" cy="288.5" r="19.5"/><text x="941.2" y="290.9">mixture</text></g>
<g id="b31" class="nb"><circle cx="1015.4" cy="283.7" r="19.5"/><text x="1015.4" y="282.5">spraying<tspan x="1015.4" dy="7.2">device</tspan></text></g>
<g id="b32" class="nb"><circle cx="1083.7" cy="317" r="19.5"/><text x="1083.7" y="319.4">outlet</text></g>
<g id="b33" class="nb"><circle cx="980.8" cy="353" r="19.5"/><text x="980.8" y="351.8">method<tspan x="980.8" dy="7.2">step</tspan></text></g>
<g id="b34" class="nb"><circle cx="904" cy="353" r="19.5"/><text x="904" y="355.4">liquid port</text></g>
<g id="b35" class="nb"><circle cx="813" cy="340" r="19.5"/><text x="813" y="342.4">apparat...</text></g>
<g id="b36" class="nb"><circle cx="1047.7" cy="386.5" r="19.5"/><text x="1047.7" y="388.9">fuel port</text></g>
<g id="b37" class="nb"><circle cx="1221.7" cy="359.5" r="19.5"/><text x="1221.7" y="358.3">polishing<tspan x="1221.7" dy="7.2">appar...</tspan></text></g>
<g id="b38" class="nb"><circle cx="1294.8" cy="344.7" r="19.5"/><text x="1294.8" y="343.5">free jet<tspan x="1294.8" dy="7.2">ventil...</tspan></text></g>
<g id="b39" class="nb"><circle cx="1367.7" cy="326.8" r="19.5"/><text x="1367.7" y="329.2">opening</text></g>
<g id="b40" class="nb"><circle cx="1440.7" cy="310" r="19.5"/><text x="1440.7" y="312.4">selective...</text></g>
<g id="b41" class="nb"><circle cx="850.3" cy="405" r="19.5"/><text x="850.3" y="403.8">air spray<tspan x="850.3" dy="7.2">device</tspan></text></g>
<g id="b42" class="nb"><circle cx="923.3" cy="425.5" r="19.5"/><text x="923.3" y="427.9">tool</text></g>
<g id="b43" class="nb"><circle cx="996.3" cy="440.4" r="19.5"/><text x="996.3" y="442.8">sprinkler</text></g>
<g id="b44" class="nb"><circle cx="1069.3" cy="458.4" r="19.5"/><text x="1069.3" y="460.8">surface</text></g>
<g id="b45" class="nb"><circle cx="1142.7" cy="472.8" r="19.5"/><text x="1142.7" y="471.6">silicon<tspan x="1142.7" dy="7.2">substr...</tspan></text></g>
<g id="b46" class="nb"><circle cx="1207" cy="434" r="19.5"/><text x="1207" y="429.2">single<tspan x="1207" dy="7.2">operating</tspan><tspan x="1207" dy="7.2">cy</tspan></text></g>
<g id="b47" class="nb"><circle cx="1279" cy="419" r="19.5"/><text x="1279" y="421.4">container</text></g>
<g id="b48" class="nb"><circle cx="1352" cy="400" r="19.5"/><text x="1352" y="402.4">automat...</text></g>
<g id="b49" class="nb"><circle cx="1425" cy="382" r="19.5"/><text x="1425" y="384.4">silicone</text></g>
<g id="b50" class="nb"><circle cx="1460" cy="449" r="19.5"/><text x="1460" y="451.4">pharmac...</text></g>
<g id="b51" class="nb"><circle cx="1387" cy="467" r="19.5"/><text x="1387" y="465.8">second<tspan x="1387" dy="7.2">conduit</tspan></text></g>
<g id="b52" class="nb"><circle cx="1314" cy="485" r="19.5"/><text x="1314" y="487.4">electric...</text></g>
<g id="b53" class="nb"><circle cx="1234" cy="506" r="19.5"/><text x="1234" y="508.4">heat tank</text></g>
<g id="b54" class="nb"><circle cx="1438" cy="521" r="19.5"/><text x="1438" y="523.4">apparat...</text></g>
<g id="b55" class="nb"><circle cx="1367" cy="539" r="19.5"/><text x="1367" y="537.8">guide<tspan x="1367" dy="7.2">channel</tspan></text></g>
<g id="b56" class="nb"><circle cx="1294" cy="557" r="19.5"/><text x="1294" y="559.4">nozzle</text></g>
<g id="b57" class="nb"><circle cx="1345" cy="610" r="19.5"/><text x="1345" y="605.2">control<tspan x="1345" dy="7.2">space</tspan><tspan x="1345" dy="7.2">lines</tspan></text></g>
<g id="b58" class="nb"><circle cx="1278" cy="643" r="19.5"/><text x="1278" y="638.2">pixel<tspan x="1278" dy="7.2">number</tspan><tspan x="1278" dy="7.2">spec</tspan></text></g>
<g id="b59" class="nb"><circle cx="1225" cy="588" r="19.5"/><text x="1225" y="586.8">filling<tspan x="1225" dy="7.2">bottles</tspan></text></g>
<g id="b60" class="nb"><circle cx="1205" cy="661" r="19.5"/><text x="1205" y="659.8">steel<tspan x="1205" dy="7.2">beads</tspan></text></g>
<g id="b61" class="nb"><circle cx="1135.5" cy="685" r="19.5"/><text x="1135.5" y="687.4">tube</text></g>
<g id="b62" class="nb"><circle cx="1165.5" cy="543.4" r="19.5"/><text x="1165.5" y="545.8">mold</text></g>
<g id="b63" class="nb"><circle cx="1116" cy="600" r="19.5"/><text x="1116" y="598.8">pressure<tspan x="1116" dy="7.2">channel</tspan></text></g>
<g id="b64" class="nb"><circle cx="1065.7" cy="656" r="19.5"/><text x="1065.7" y="658.4">liquid</text></g>
<g id="b65" class="nb"><circle cx="992.7" cy="640.3" r="19.5"/><text x="992.7" y="642.7">inlet</text></g>
<g id="b66" class="nb"><circle cx="919.7" cy="625" r="19.5"/><text x="919.7" y="627.4">polyester</text></g>
<g id="b67" class="nb"><circle cx="1043" cy="585.3" r="19.5"/><text x="1043" y="587.7">bore</text></g>
<g id="b68" class="nb"><circle cx="1092" cy="529" r="19.5"/><text x="1092" y="524.2">nozzle<tspan x="1092" dy="7.2">orifice</tspan><tspan x="1092" dy="7.2">tank</tspan></text></g>
<g id="b69" class="nb"><circle cx="1019" cy="513.4" r="19.5"/><text x="1019" y="512.2">spray<tspan x="1019" dy="7.2">head</tspan></text></g>
<g id="b70" class="nb"><circle cx="968.7" cy="568.5" r="19.5"/><text x="968.7" y="567.3">pipe<tspan x="968.7" dy="7.2">passa...</tspan></text></g>
<g id="b71" class="nb"><circle cx="946" cy="496" r="19.5"/><text x="946" y="494.8">device<tspan x="946" dy="7.2">attach...</tspan></text></g>
<g id="b72" class="nb"><circle cx="895.7" cy="551.7" r="19.5"/><text x="895.7" y="550.5">material<tspan x="895.7" dy="7.2">media</tspan></text></g>
<g id="b73" class="nb"><circle cx="873" cy="481" r="19.5"/><text x="873" y="479.8">cone<tspan x="873" dy="7.2">mouth</tspan></text></g>
<g id="b74" class="nb"><circle cx="801" cy="461" r="19.5"/><text x="801" y="459.8">nozzle<tspan x="801" dy="7.2">rail</tspan></text></g>
<g id="b75" class="nb"><circle cx="822.7" cy="537.4" r="19.5"/><text x="822.7" y="539.8">connect...</text></g>

<!-- ================= PANEL C ================= -->
<g id="c-edges">
<path class="ec" d="M219,871L402,1113" marker-start="url(#mC)"/>
<path class="ec" d="M382,883L402,1113" marker-start="url(#mC)"/>
<path class="ec" d="M402,1113Q434.2,942.5 560,856" marker-end="url(#mC)"/>
<path class="ec" d="M402,1113Q536.2,997.9 560,856" marker-end="url(#mC)"/>
<path class="ec" d="M243,1021Q329.1,1023 402,1113" marker-start="url(#mC)"/>
<path class="ec" d="M243,1021Q286.5,1095 402,1113" marker-start="url(#mC)"/>
<path class="ec" d="M88,1062Q236.4,1025.4 402,1113" marker-start="url(#mC)"/>
<path class="ec" d="M88,1062Q219.6,1142 402,1113" marker-start="url(#mC)"/>
<path class="ec" d="M402,1113L627,1028" marker-end="url(#mC)"/>
<path class="ec" d="M402,1113L643,1179" marker-end="url(#mC)"/>
<path class="ec" d="M175,1193L402,1113" marker-start="url(#mC)"/>
<path class="ec" d="M347,1279L402,1113" marker-start="url(#mC)"/>
<path class="ec" d="M203,1346L402,1113" marker-start="url(#mC)"/>
<path class="ec" d="M402,1113Q362,1271.5 431,1408" marker-end="url(#mC)"/>
<path class="ec" d="M402,1113Q477,1267.5 431,1408" marker-end="url(#mC)"/>
<path class="ec" d="M402,1113Q520.5,1185.5 547,1300" marker-end="url(#mC)"/>
<path class="ec" d="M402,1113Q439.7,1240.3 547,1300" marker-end="url(#mC)"/>
<text class="labc" x="308.5" y="990" transform="rotate(52.9 308.5 990)">RE</text>
<text class="labc" x="392" y="996" transform="rotate(85 392 996)">RE</text>
<text class="labc" x="457.6" y="964" transform="rotate(-58.4 457.6 964)">RE</text>
<text class="labc" x="508.6" y="991.7" transform="rotate(-58.4 508.6 991.7)">RE</text>
<text class="labc" x="325.8" y="1045" transform="rotate(30.1 325.8 1045)">RE</text>
<text class="labc" x="304.5" y="1081" transform="rotate(30.1 304.5 1081)">RE</text>
<text class="labc" x="209.5" y="1052.6" transform="rotate(4.8 209.5 1052.6)">RE</text>
<text class="labc" x="232.3" y="1115" transform="rotate(9.2 232.3 1115)">RE</text>
<text class="labc" x="520" y="1068.5" transform="rotate(-20.7 520 1068.5)">RE</text>
<text class="labc" x="528" y="1147" transform="rotate(15.3 528 1147)">RE</text>
<text class="labc" x="285" y="1155" transform="rotate(-19.4 285 1155)">RE</text>
<text class="labc" x="374.5" y="1196" transform="rotate(-71.7 374.5 1196)">RE</text>
<text class="labc" x="299.5" y="1233" transform="rotate(-49.5 299.5 1233)">RE</text>
<text class="labc" x="389.5" y="1266" transform="rotate(84.4 389.5 1266)">RE</text>
<text class="labc" x="447" y="1264" transform="rotate(84.4 447 1264)">RE</text>
<text class="labc" x="498" y="1196" transform="rotate(52.2 498 1196)">RE</text>
<text class="labc" x="457.6" y="1223.4" transform="rotate(52.2 457.6 1223.4)">RE</text>
</g>
<g id="c-center" class="cc"><circle cx="402" cy="1113" r="63"/><text x="402" y="1118.3">nozzles</text></g>
<g id="c01" class="nc"><circle cx="219" cy="871" r="40"/><text x="219" y="868.05">nozzle<tspan x="219" dy="15.7">nozzles</tspan></text></g>
<g id="c02" class="nc"><circle cx="382" cy="883" r="40"/><text x="382" y="872.2">oblique<tspan x="382" dy="15.7">acute</tspan><tspan x="382" dy="15.7">angle</tspan></text></g>
<g id="c03" class="nc"><circle cx="560" cy="856" r="40"/><text x="560" y="845.2">other<tspan x="560" dy="15.7">parallel</tspan><tspan x="560" dy="15.7">plan</tspan></text></g>
<g id="c04" class="nc"><circle cx="243" cy="1021" r="40"/><text x="243" y="1010.2">plurality<tspan x="243" dy="15.7">groups</tspan><tspan x="243" dy="15.7">no</tspan></text></g>
<g id="c05" class="nc"><circle cx="88" cy="1062" r="40"/><text x="88" y="1066.9">nozzles</text></g>
<g id="c06" class="nc"><circle cx="627" cy="1028" r="40"/><text x="627" y="1032.9">side</text></g>
<g id="c07" class="nc"><circle cx="643" cy="1179" r="40"/><text x="643" y="1183.9">one more</text></g>
<g id="c08" class="nc"><circle cx="175" cy="1193" r="40"/><text x="175" y="1190.05">entire<tspan x="175" dy="15.7">width</tspan></text></g>
<g id="c09" class="nc"><circle cx="347" cy="1279" r="40"/><text x="347" y="1283.9">oxygen</text></g>
<g id="c10" class="nc"><circle cx="203" cy="1346" r="40"/><text x="203" y="1350.9">holder</text></g>
<g id="c11" class="nc"><circle cx="431" cy="1408" r="40"/><text x="431" y="1405.05">common<tspan x="431" dy="15.7">plane</tspan></text></g>
<g id="c12" class="nc"><circle cx="547" cy="1300" r="40"/><text x="547" y="1304.9">pipe</text></g>

<!-- ================= PANEL D (vertically mirrored) ================= -->
<g id="panel-d" transform="matrix(1 0 0 -1 0 2240)">
<g id="d-edges">
<path class="ed" d="M880,1337L967,1257"/>
<path class="ed" d="M1003,1375L1090,1289"/>
<path class="ed" d="M1257,1419L1203,1318"/>
<path class="ed" d="M1326,1312Q1290,1250 1255,1213"/>
<path class="ed" d="M1428,1088L1310,1104"/>
<path class="ed" d="M1190,800L1163,915"/>
<path class="ed" d="M1190,800Q1150,850 1118,1120"/>
<path class="ed" d="M946,897L1054,960"/>
<path class="ed" d="M838,963L944,1016"/>
<path class="ed" d="M1118,1120L1121,1408" marker-start="url(#mD)"/>
<path class="ed" d="M1003,1375Q1040,1238 1118,1120" marker-end="url(#mD)"/>
<path class="ed" d="M1090,1289L1118,1120" marker-end="url(#mD)"/>
<path class="ed" d="M1090,1289Q1128,1208 1118,1120" marker-end="url(#mD)"/>
<path class="ed" d="M1118,1120L1203,1318" marker-start="url(#mD)"/>
<path class="ed" d="M1118,1120Q1182,1209 1203,1318" marker-start="url(#mD)"/>
<path class="ed" d="M1118,1120Q1207,1232 1326,1312" marker-start="url(#mD)"/>
<path class="ed" d="M967,1257L1118,1120" marker-end="url(#mD)"/>
<path class="ed" d="M855,1211L1118,1120" marker-end="url(#mD)"/>
<path class="ed" d="M1118,1120L1255,1213" marker-start="url(#mD)"/>
<path class="ed" d="M1118,1120Q1173,1187 1255,1213" marker-start="url(#mD)"/>
<path class="ed" d="M1118,1120L1380,1202" marker-start="url(#mD)"/>
<path class="ed" d="M954,1133L1118,1120" marker-end="url(#mD)"/>
<path class="ed" d="M841,1088L1118,1120" marker-end="url(#mD)"/>
<path class="ed" d="M1118,1120L1310,1104" marker-start="url(#mD)"/>
<path class="ed" d="M944,1016L1118,1120" marker-end="url(#mD)"/>
<path class="ed" d="M944,1016Q1019,1088 1118,1120" marker-end="url(#mD)"/>
<path class="ed" d="M838,963L1118,1120" marker-end="url(#mD)"/>
<path class="ed" d="M1054,960L1118,1120" marker-end="url(#mD)"/>
<path class="ed" d="M1118,1120L1239,1008" marker-start="url(#mD)"/>
<path class="ed" d="M1118,1120L1360,987" marker-start="url(#mD)"/>
<path class="ed" d="M1118,1120L1163,915" marker-start="url(#mD)"/>
<path class="ed" d="M1118,1120Q1163,1022 1163,915" marker-start="url(#mD)"/>
<path class="ed" d="M946,897L1118,1120" marker-end="url(#mD)"/>
<path class="ed" d="M1059,841L1118,1120" marker-end="url(#mD)"/>
<path class="ed" d="M1118,1120L1279,889" marker-start="url(#mD)"/>
<text class="labd" x="1119.5" y="1264" transform="rotate(89.4 1119.5 1264)">RE</text>
<text class="labd" x="1050.3" y="1242.8" transform="rotate(-65.7 1050.3 1242.8)">RE</text>
<text class="labd" x="1104" y="1204.5" transform="rotate(-80.6 1104 1204.5)">RE</text>
<text class="labd" x="1116" y="1206.3" transform="rotate(-80.6 1116 1206.3)">RE</text>
<text class="labd" x="1160.5" y="1219" transform="rotate(66.8 1160.5 1219)">RE</text>
<text class="labd" x="1171.3" y="1214" transform="rotate(66.8 1171.3 1214)">RE</text>
<text class="labd" x="1214.5" y="1224" transform="rotate(42.7 1214.5 1224)">RE</text>
<text class="labd" x="1042.5" y="1188.5" transform="rotate(-42.2 1042.5 1188.5)">RE</text>
<text class="labd" x="986.5" y="1165.5" transform="rotate(-19.1 986.5 1165.5)">RE</text>
<text class="labd" x="1186.5" y="1166.5" transform="rotate(34.2 1186.5 1166.5)">RE</text>
<text class="labd" x="1179.8" y="1176.8" transform="rotate(34.2 1179.8 1176.8)">RE</text>
<text class="labd" x="1249" y="1161" transform="rotate(17.4 1249 1161)">RE</text>
<text class="labd" x="1036" y="1126.5" transform="rotate(-4.5 1036 1126.5)">RE</text>
<text class="labd" x="979.5" y="1104" transform="rotate(6.6 979.5 1104)">RE</text>
<text class="labd" x="1214" y="1112" transform="rotate(-4.8 1214 1112)">RE</text>
<text class="labd" x="1031" y="1068" transform="rotate(30.9 1031 1068)">RE</text>
<text class="labd" x="1025" y="1078" transform="rotate(30.9 1025 1078)">RE</text>
<text class="labd" x="978" y="1041.5" transform="rotate(29.3 978 1041.5)">RE</text>
<text class="labd" x="1086" y="1040" transform="rotate(68.2 1086 1040)">RE</text>
<text class="labd" x="1178.5" y="1064" transform="rotate(-42.8 1178.5 1064)">RE</text>
<text class="labd" x="1239" y="1053.5" transform="rotate(-28.8 1239 1053.5)">RE</text>
<text class="labd" x="1140.5" y="1017.5" transform="rotate(-77.6 1140.5 1017.5)">RE</text>
<text class="labd" x="1151.8" y="1019.8" transform="rotate(-77.6 1151.8 1019.8)">RE</text>
<text class="labd" x="1032" y="1008.5" transform="rotate(52.4 1032 1008.5)">RE</text>
<text class="labd" x="1088.5" y="980.5" transform="rotate(78.1 1088.5 980.5)">RE</text>
<text class="labd" x="1198.5" y="1004.5" transform="rotate(-55.1 1198.5 1004.5)">RE</text>
</g>
<g id="d-center" class="cd"><circle cx="1118" cy="1120" r="52"/><text x="1118" y="1124.2">nozzles</text></g>
<g id="d01" class="nd"><circle cx="1121" cy="1408" r="33"/><text x="1121" y="1405.8">pinning<tspan x="1121" dy="11.8">rail</tspan></text></g>
<g id="d02" class="nd"><circle cx="1257" cy="1419" r="33"/><text x="1257" y="1422.7">cushion</text></g>
<g id="d03" class="nd"><circle cx="1003" cy="1375" r="33"/><text x="1003" y="1372.8">nozzle<tspan x="1003" dy="11.8">rail</tspan></text></g>
<g id="d04" class="nd"><circle cx="1090" cy="1289" r="33"/><text x="1090" y="1280.9">two<tspan x="1090" dy="11.8">nozzle</tspan><tspan x="1090" dy="11.8">hol...</tspan></text></g>
<g id="d05" class="nd"><circle cx="1203" cy="1318" r="33"/><text x="1203" y="1321.7">driver</text></g>
<g id="d06" class="nd"><circle cx="1326" cy="1312" r="33"/><text x="1326" y="1303.9">drying<tspan x="1326" dy="11.8">dual</tspan><tspan x="1326" dy="11.8">gas...</tspan></text></g>
<g id="d07" class="nd"><circle cx="880" cy="1337" r="33"/><text x="880" y="1334.8">rotatable<tspan x="880" dy="11.8">drag...</tspan></text></g>
<g id="d08" class="nd"><circle cx="967" cy="1257" r="33"/><text x="967" y="1254.8">information<tspan x="967" dy="11.8">system</tspan></text></g>
<g id="d09" class="nd"><circle cx="855" cy="1211" r="33"/><text x="855" y="1208.8">column<tspan x="855" dy="11.8">drum...</tspan></text></g>
<g id="d10" class="nd"><circle cx="1255" cy="1213" r="33"/><text x="1255" y="1216.7">method</text></g>
<g id="d11" class="nd"><circle cx="1380" cy="1202" r="33"/><text x="1380" y="1205.7">longitud...</text></g>
<g id="d12" class="nd"><circle cx="954" cy="1133" r="33"/><text x="954" y="1130.8">common<tspan x="954" dy="11.8">holder</tspan></text></g>
<g id="d13" class="nd"><circle cx="841" cy="1088" r="33"/><text x="841" y="1079.9">filling<tspan x="841" dy="11.8">measure</tspan><tspan x="841" dy="11.8">d</tspan></text></g>
<g id="d14" class="nd"><circle cx="1310" cy="1104" r="33"/><text x="1310" y="1101.8">discharging<tspan x="1310" dy="11.8">device</tspan></text></g>
<g id="d15" class="nd"><circle cx="1428" cy="1088" r="33"/><text x="1428" y="1091.7">springer</text></g>
<g id="d16" class="nd"><circle cx="944" cy="1016" r="33"/><text x="944" y="1019.7">piezoele...</text></g>
<g id="d17" class="nd"><circle cx="838" cy="963" r="33"/><text x="838" y="960.8">ring gap<tspan x="838" dy="11.8">nozzle</tspan></text></g>
<g id="d18" class="nd"><circle cx="1054" cy="960" r="33"/><text x="1054" y="957.8">wearing<tspan x="1054" dy="11.8">mach...</tspan></text></g>
<g id="d19" class="nd"><circle cx="1239" cy="1008" r="33"/><text x="1239" y="1005.8">nozzle<tspan x="1239" dy="11.8">cone...</tspan></text></g>
<g id="d20" class="nd"><circle cx="1360" cy="987" r="33"/><text x="1360" y="990.7">scrape...</text></g>
<g id="d21" class="nd"><circle cx="1163" cy="915" r="33"/><text x="1163" y="906.9">process<tspan x="1163" dy="11.8">different</tspan><tspan x="1163" dy="11.8">i</tspan></text></g>
<g id="d22" class="nd"><circle cx="946" cy="897" r="33"/><text x="946" y="900.7">holder</text></g>
<g id="d23" class="nd"><circle cx="1059" cy="841" r="33"/><text x="1059" y="844.7">filter</text></g>
<g id="d24" class="nd"><circle cx="1190" cy="800" r="33"/><text x="1190" y="803.7">nozzles</text></g>
<g id="d25" class="nd"><circle cx="1279" cy="889" r="33"/><text x="1279" y="886.8">drill<tspan x="1279" dy="11.8">coup...</tspan></text></g>
</g>

<!-- panel captions -->
<text class="pl" x="367" y="771">(<tspan font-weight="bold">a</tspan>)</text>
<text class="pl" x="1135" y="771">(<tspan font-weight="bold">b</tspan>)</text>
<text class="pl" x="366" y="1531">(<tspan font-weight="bold">c</tspan>)</text>
<text class="pl" x="1135" y="1531">(<tspan font-weight="bold">d</tspan>)</text>
</g>
</svg>
